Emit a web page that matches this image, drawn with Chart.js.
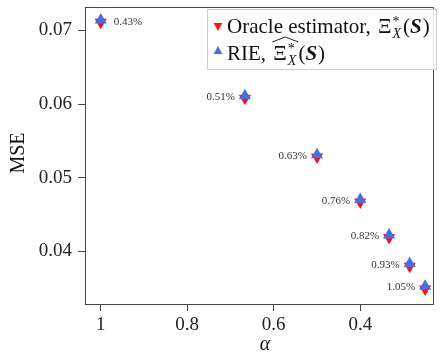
<!DOCTYPE html>
<html>
<head>
<meta charset="utf-8">
<script src="https://cdn.jsdelivr.net/npm/chart.js@4/dist/chart.umd.min.js"></script>
<style>
  body { margin: 0; background: #fff; }
  #wrap { width: 440px; height: 360px; }
</style>
</head>
<body>
<div id="wrap"><canvas id="mseChart" width="440" height="360"></canvas></div>
<script>
    const alphaVals = [1, 0.6667, 0.5, 0.4, 0.3333, 0.2857, 0.25];
    const oracleMse = [0.07110, 0.06080, 0.05280, 0.04670, 0.04190, 0.03800, 0.03490];
    const rieMse = [0.07141, 0.06111, 0.05313, 0.04705, 0.04224, 0.03835, 0.03527];
    const gapLabels = ['0.43%', '0.51%', '0.63%', '0.76%', '0.82%', '0.93%', '1.05%'];
    const xTicks = [1, 0.8, 0.6, 0.4];
    const yTicks = [0.04, 0.05, 0.06, 0.07];

    const serif = '"Liberation Serif", "DejaVu Serif", serif';
    const red = '#ff1010';
    const blue = '#4a6ee0';

    function tri(ctx, x, y, r, down, color) {
        const s = down ? -1 : 1;
        ctx.beginPath();
        ctx.moveTo(x, y - s * r);
        ctx.lineTo(x + r * 0.87, y + s * r * 0.6);
        ctx.lineTo(x - r * 0.87, y + s * r * 0.6);
        ctx.closePath();
        ctx.fillStyle = color;
        ctx.fill();
    }

    function put(ctx, text, x, y, font) {
        ctx.font = font;
        ctx.fillText(text, x, y);
        return x + ctx.measureText(text).width;
    }

    // Xi with * superscript and X subscript, then (S); returns end x
    function xiTerm(ctx, x, y, hat) {
        const x0 = x;
        x = put(ctx, 'Ξ', x, y, '21px ' + serif);
        const sup = put(ctx, '*', x + 1, y - 7, '14px ' + serif);
        const sub = put(ctx, 'X', x + 1, y + 5, 'italic 14px ' + serif);
        x = Math.max(sup, sub) + 1;
        if (hat) {
            ctx.beginPath();
            ctx.moveTo(x0 - 1, y - 18);
            ctx.lineTo((x0 + x) / 2, y - 23);
            ctx.lineTo(x + 1, y - 18);
            ctx.lineWidth = 1;
            ctx.strokeStyle = '#222';
            ctx.stroke();
        }
        x = put(ctx, '(', x + 1, y, '21px ' + serif);
        x = put(ctx, 'S', x, y, 'bold italic 21px ' + serif);
        return put(ctx, ')', x + 1, y, '21px ' + serif);
    }

    const decorPlugin = {
        id: 'decor',
        afterDatasetsDraw(chart) {
            const ctx = chart.ctx;
            const area = chart.chartArea;
            const rie = chart.getDatasetMeta(0).data;
            const ora = chart.getDatasetMeta(1).data;
            ctx.save();

            // relative gap labels beside each pair of markers
            ctx.font = '11px ' + serif;
            ctx.fillStyle = '#333';
            ctx.textBaseline = 'middle';
            gapLabels.forEach((txt, i) => {
                const px = rie[i].x;
                const py = (rie[i].y + ora[i].y) / 2;
                if (i === 0) {
                    ctx.textAlign = 'left';
                    ctx.fillText(txt, px + 13, py + 1);
                } else {
                    ctx.textAlign = 'right';
                    ctx.fillText(txt, px - 10, py);
                }
            });

            // top and right spines
            ctx.strokeStyle = '#444';
            ctx.lineWidth = 1;
            ctx.beginPath();
            ctx.moveTo(area.left, area.top + 0.5);
            ctx.lineTo(area.right + 0.5, area.top + 0.5);
            ctx.lineTo(area.right + 0.5, area.bottom);
            ctx.stroke();

            // legend
            ctx.fillStyle = 'rgba(255,255,255,0.85)';
            ctx.fillRect(207, 9, 229, 60);
            ctx.strokeStyle = '#cccccc';
            ctx.strokeRect(207.5, 9.5, 229, 60);
            tri(ctx, 218, 26, 5, true, red);
            tri(ctx, 218, 51, 5, false, blue);
            ctx.fillStyle = '#111';
            ctx.textAlign = 'left';
            ctx.textBaseline = 'alphabetic';
            let x = put(ctx, 'Oracle estimator, ', 227, 33, '21px ' + serif);
            xiTerm(ctx, x + 2, 33, false);
            x = put(ctx, 'RIE, ', 227, 60, '21px ' + serif);
            xiTerm(ctx, x + 2, 60, true);

            // axis titles
            ctx.fillStyle = '#111';
            ctx.textAlign = 'center';
            ctx.textBaseline = 'middle';
            ctx.font = 'italic 20px ' + serif;
            ctx.fillText('α', 265, 345);
            ctx.translate(19, 153);
            ctx.rotate(-Math.PI / 2);
            ctx.font = '20px ' + serif;
            ctx.fillText('MSE', 0, 0);
            ctx.restore();
        }
    };

    const ctx = document.getElementById('mseChart').getContext('2d');
    new Chart(ctx, {
        type: 'scatter',
        data: {
            datasets: [{
                label: 'RIE',
                data: alphaVals.map((a, i) => ({ x: a, y: rieMse[i] })),
                pointStyle: 'triangle',
                pointRadius: 7,
                pointHoverRadius: 7,
                backgroundColor: blue,
                borderColor: blue,
                borderWidth: 0,
                order: 1
            }, {
                label: 'Oracle estimator',
                data: alphaVals.map((a, i) => ({ x: a, y: oracleMse[i] })),
                pointStyle: 'triangle',
                rotation: 180,
                pointRadius: 7,
                pointHoverRadius: 7,
                backgroundColor: red,
                borderColor: red,
                borderWidth: 0,
                order: 2
            }]
        },
        options: {
            responsive: false,
            animation: false,
            devicePixelRatio: 1,
            layout: { padding: { top: 2, right: 1, left: 0, bottom: 0 } },
            plugins: {
                legend: { display: false },
                tooltip: { enabled: false }
            },
            scales: {
                x: {
                    type: 'linear',
                    reverse: true,
                    min: 0.2318,
                    max: 1.0364,
                    afterBuildTicks: s => { s.ticks = xTicks.map(v => ({ value: v })); },
                    afterFit: s => {
                        s.height = 56;
                        s.paddingLeft = 0;
                        s.paddingRight = 0;
                    },
                    grid: { drawOnChartArea: false, tickLength: 7, color: '#444' },
                    border: { display: true, color: '#444', width: 1 },
                    ticks: {
                        padding: 3,
                        color: '#222',
                        font: { family: serif, size: 19 },
                        callback: v => String(v)
                    }
                },
                y: {
                    min: 0.03286,
                    max: 0.07317,
                    afterBuildTicks: s => { s.ticks = yTicks.map(v => ({ value: v })); },
                    afterFit: s => {
                        s.width = 85;
                        s.paddingTop = 0;
                        s.paddingBottom = 0;
                    },
                    grid: { drawOnChartArea: false, tickLength: 7, color: '#444' },
                    border: { display: true, color: '#444', width: 1 },
                    ticks: {
                        padding: 6,
                        color: '#222',
                        font: { family: serif, size: 19 },
                        callback: v => v.toFixed(2)
                    }
                }
            }
        },
        plugins: [decorPlugin]
    });
</script>
</body>
</html>
